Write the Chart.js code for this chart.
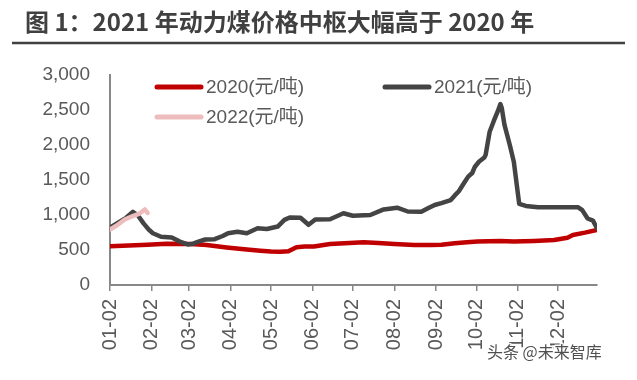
<!DOCTYPE html>
<html><head><meta charset="utf-8">
<script src="https://cdn.jsdelivr.net/npm/chart.js@4.4.0/dist/chart.umd.min.js"></script>
<style>html,body{margin:0;padding:0;background:#fff;overflow:hidden}#wrap{width:637px;height:380px}</style>
</head><body><div id="wrap"><canvas id="c" width="637" height="380"></canvas></div>
<script>
const titleText = '图 1：2021 年动力煤价格中枢大幅高于 2020 年';
const watermarkText = '头条 @未来智库';
const tickLabels = ['01-02','02-02','03-02','04-02','05-02','06-02','07-02','08-02','09-02','10-02','11-02','12-02'];
const yTicks = [0,500,1000,1500,2000,2500,3000];

const dates2020 = ['01-02','01-16','01-30','02-13','03-03','03-15','03-30','04-12','04-24','05-02','05-09','05-15','05-21','05-27','06-03','06-15','06-26','07-10','07-21','08-02','08-17','08-29','09-06','09-16','09-25','10-03','10-20','10-30','11-14','11-29','12-09','12-13','12-22','12-31'];
const values2020 = [555,565,575,590,586,570,535,510,490,480,476,482,540,550,550,585,595,610,600,585,572,572,575,595,610,620,630,620,630,643,676,714,748,786];

const dates2021 = ['01-02','01-09','01-14','01-19','01-23','01-27','01-31','02-03','02-09','02-17','02-23','03-01','03-05','03-09','03-14','03-21','03-27','03-31','04-07','04-14','04-22','04-29','05-07','05-12','05-16','05-24','05-30','06-04','06-15','06-25','07-02','07-15','07-25','08-04','08-12','08-22','08-27','09-01','09-06','09-13','09-16','09-19','09-23','09-26','09-29','10-01','10-04','10-08','10-09','10-12','10-15','10-18','10-20','10-21','10-23','10-27','10-30','11-03','11-08','11-17','12-17','12-20','12-24','12-28','12-31'];
const values2021 = [820,900,960,1045,990,880,790,740,690,680,620,580,590,620,650,655,700,740,760,740,810,800,835,930,965,960,860,935,940,1025,990,1000,1080,1105,1050,1045,1095,1143,1170,1214,1280,1340,1460,1548,1600,1690,1760,1820,1860,2190,2340,2480,2585,2530,2290,2000,1760,1160,1130,1110,1110,1070,950,920,810];

const dates2022 = ['01-02','01-07','01-13','01-19','01-24','01-28','01-30'];
const values2022 = [790,850,935,985,1020,1080,1030];

const seriesNames = ['2020(元/吨)','2021(元/吨)','2022(元/吨)'];
const seriesColors = ['#C00000','#444444','#EDBDBD'];

const monthStart = [0,31,59,90,120,151,181,212,243,273,304,334];
function dayIndex(s){ const [m,d]=s.split('-').map(Number); return monthStart[m-1]+d-2; }
const tickDays = tickLabels.map(dayIndex);
function pts(dates, vals){ return dates.map((d,i)=>({x:dayIndex(d), y:vals[i]})); }

const FONT = '"Liberation Sans", Arial, "Noto Sans CJK SC", sans-serif';

const decor = {
  id:'decor',
  afterDraw(chart){
    const ctx = chart.ctx;
    ctx.save();
    ctx.fillStyle = '#404040';
    ctx.font = 'bold 24px "Noto Sans CJK SC", sans-serif';
    ctx.textBaseline = 'middle';
    ctx.textAlign = 'left';
    ctx.fillText(titleText, 25, 22);
    ctx.strokeStyle = '#404040';
    ctx.lineWidth = 2.5;
    ctx.beginPath(); ctx.moveTo(12, 43); ctx.lineTo(625, 43); ctx.stroke();
    const items = [
      {i:0, x:155, y:87},
      {i:1, x:383, y:87},
      {i:2, x:155, y:117}
    ];
    ctx.font = '19px ' + FONT;
    items.forEach(it=>{
      const ds = chart.data.datasets[it.i];
      ctx.strokeStyle = ds.borderColor;
      ctx.lineWidth = 5;
      ctx.lineCap = 'round';
      ctx.beginPath(); ctx.moveTo(it.x+2, it.y); ctx.lineTo(it.x+46, it.y); ctx.stroke();
      ctx.fillStyle = '#595959';
      ctx.fillText(ds.label, it.x+51, it.y+1);
    });
    ctx.font = '16px "Noto Sans CJK SC", sans-serif';
    ctx.lineWidth = 3;
    ctx.lineJoin = 'round';
    ctx.strokeStyle = 'rgba(255,255,255,0.9)';
    ctx.strokeText(watermarkText, 487, 352);
    ctx.fillStyle = '#505050';
    ctx.fillText(watermarkText, 487, 352);
    ctx.restore();
  }
};

const lineStyle = {borderWidth:4.5, pointRadius:0, tension:0, borderJoinStyle:'round', borderCapStyle:'round'};

new Chart(document.getElementById('c'), {
  type:'line',
  data:{ datasets:[
    Object.assign({label:seriesNames[0], data:pts(dates2020, values2020), borderColor:seriesColors[0], order:2}, lineStyle),
    Object.assign({label:seriesNames[1], data:pts(dates2021, values2021), borderColor:seriesColors[1], order:1}, lineStyle),
    Object.assign({label:seriesNames[2], data:pts(dates2022, values2022), borderColor:seriesColors[2], order:0}, lineStyle)
  ]},
  options:{
    responsive:false, animation:false, devicePixelRatio:1,
    layout:{padding:{top:75,right:40,bottom:0,left:0}},
    plugins:{legend:{display:false}, title:{display:false}, tooltip:{enabled:false}},
    scales:{
      x:{type:'linear', min:0, max:363,
        afterBuildTicks(s){ s.ticks = tickDays.map(v=>({value:v})); },
        afterFit(s){ s.height = 95; },
        ticks:{autoSkip:false, minRotation:90, maxRotation:90, padding:8, color:'#595959', font:{size:20, family:FONT},
          callback(v){ const k = tickDays.indexOf(v); return k>=0 ? tickLabels[k] : ''; }},
        grid:{drawOnChartArea:false, drawTicks:true, tickLength:6, color:'#888888', lineWidth:1.5},
        border:{display:true, color:'#888888', width:2}
      },
      y:{min:0, max:3000,
        afterBuildTicks(s){ s.ticks = yTicks.map(v=>({value:v})); },
        afterFit(s){ s.width = 110; },
        ticks:{padding:20, color:'#595959', font:{size:19, family:FONT},
          callback(v){ return v.toString().replace(/\B(?=(\d{3})+(?!\d))/g, ','); }},
        grid:{display:false, drawTicks:false},
        border:{display:true, color:'#888888', width:2}
      }
    }
  },
  plugins:[decor]
});
</script></body></html>
